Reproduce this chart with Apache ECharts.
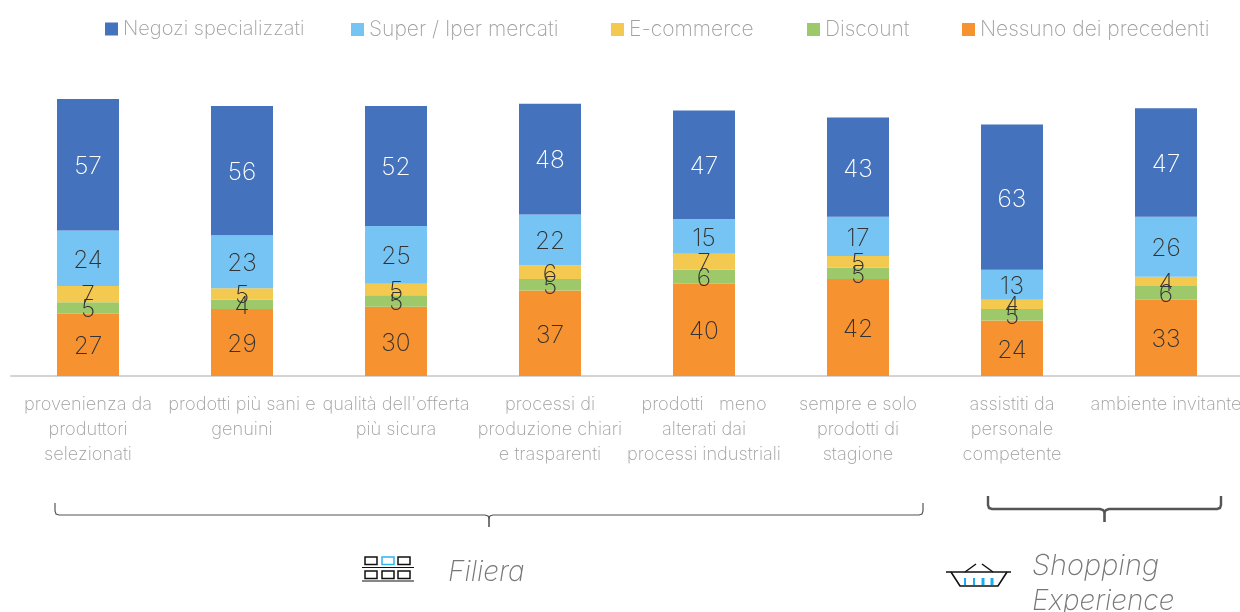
<!DOCTYPE html>
<html><head><meta charset="utf-8">
<style>html,body{margin:0;padding:0;background:#fff}#c{width:1240px;height:612px}</style>
<script src="https://cdn.jsdelivr.net/npm/echarts@6/dist/echarts.min.js"></script>
</head><body><div id="c"></div>
<script>
const categories = ['provenienza da\nproduttori\nselezionati','prodotti più sani e\ngenuini','qualità dell\'offerta\npiù sicura','processi di\nproduzione chiari\ne trasparenti','prodotti   meno\nalterati dai\nprocessi industriali','sempre e solo\nprodotti di\nstagione','assistiti da\npersonale\ncompetente','ambiente invitante'];
const negozi = [57,56,52,48,47,43,63,47];
const superIper = [24,23,25,22,15,17,13,26];
const ecommerce = [7,5,5,6,7,5,4,4];
const discount = [5,4,5,5,6,5,5,6];
const nessuno = [27,29,30,37,40,42,24,33];
const FONT = 'Inter, "Liberation Sans", sans-serif';
const mk = (name, data, color) => ({name, type:'bar', stack:'t', data, barWidth:62, itemStyle:{color},
  label:{show:true, position:'inside', offset:[0,2], fontFamily:FONT, fontWeight:200, fontSize:24.5, color:name==='Negozi specializzati'?'#fff':'#333'},
  emphasis:{disabled:true}});
const series = [
  mk('Nessuno dei precedenti', nessuno, '#F69230'),
  mk('Discount', discount, '#9DC96A'),
  mk('E-commerce', ecommerce, '#F3C94F'),
  mk('Super / Iper mercati', superIper, '#75C4F3'),
  mk('Negozi specializzati', negozi, '#4472BC')
];
const legendNames = ['Negozi specializzati','Super / Iper mercati','E-commerce','Discount','Nessuno dei precedenti'];
const legendLeft = [105,351,611,807,962];
const legendSize = [20,21,21,21,21];
const gray = '#555';
const poly = (points, stroke, lineWidth) => ({type:'polyline', shape:{points}, style:{fill:'none', stroke, lineWidth}, silent:true});
const italicFont = 'italic 200 28px '+FONT;
const ch = echarts.init(document.getElementById('c'), null, {renderer:'canvas'});
ch.setOption({
  animation:false,
  backgroundColor:'#fff',
  legend: legendNames.map((n,i)=>({data:[n], left:legendLeft[i], top:19, padding:0, itemWidth:13, itemHeight:13, itemGap:0, icon:'rect', selectedMode:false,
    textStyle:{fontFamily:FONT, fontWeight:200, fontSize:legendSize[i], color:'#a0a0a0'}})),
  grid:{left:11, top:76, width:1232, height:300, containLabel:false, outerBoundsMode:'none'},
  xAxis:{type:'category', data:categories,
    axisLine:{show:true, lineStyle:{color:'#d4d4d4', width:2}}, axisTick:{show:false},
    axisLabel:{interval:0, margin:16, fontFamily:FONT, fontWeight:200, fontSize:18.2, lineHeight:25, color:'#a0a0a0', align:'center', verticalAlign:'top', hideOverlap:false}},
  yAxis:{type:'value', min:0, max:130, show:false, splitLine:{show:false}},
  series,
  graphic:{elements:[
    poly([[55,503],[55,511],[56,514],[59,515],[485,515],[488,516],[489,518],[490,516],[493,515],[919,515],[922,514],[923,511],[923,503]], gray, 1.2),
    poly([[489,516],[489,527]], gray, 1.6),
    poly([[988,496],[988,505],[989,508],[992,509],[1100,509],[1103,510],[1104.5,512],[1106,510],[1109,509],[1217,509],[1220,508],[1221,505],[1221,496]], gray, 2.4),
    poly([[1104.5,510],[1104.5,522]], gray, 2.6),
    // Filiera icon
    poly([[362,567.5],[414,567.5]], '#111', 1.2),
    poly([[362,581],[414,581]], '#111', 1.2),
    ...[[365,557,'#111'],[382,557,'#2FB4F0'],[398,557,'#111'],[365,571,'#111'],[382,571,'#111'],[398,571,'#111']].map(a=>({type:'rect',shape:{x:a[0],y:a[1],width:12,height:7.5},style:{fill:'none',stroke:a[2],lineWidth:1.5},silent:true})),
    {type:'text', style:{x:448, y:559, text:'Filiera', font:italicFont, fill:'#777'}, silent:true},
    // basket icon
    poly([[946,572],[1011,572]], '#111', 1.4),
    poly([[951,572],[960,586],[998,586],[1007,572]], '#111', 1.6),
    poly([[965,572],[976,564]], '#111', 1.5),
    poly([[982,564],[993,572]], '#111', 1.5),
    ...[[965,2],[974,2],[983,3],[992,3]].map(a=>poly([[a[0],578],[a[0],585]], '#1DADEE', a[1])),
    {type:'text', style:{x:1032, y:552, text:'Shopping', font:'italic 200 29px '+FONT, fill:'#777'}, silent:true},
    {type:'text', style:{x:1032, y:588, text:'Experience', font:italicFont, fill:'#777'}, silent:true}
  ]}
});
</script></body></html>
